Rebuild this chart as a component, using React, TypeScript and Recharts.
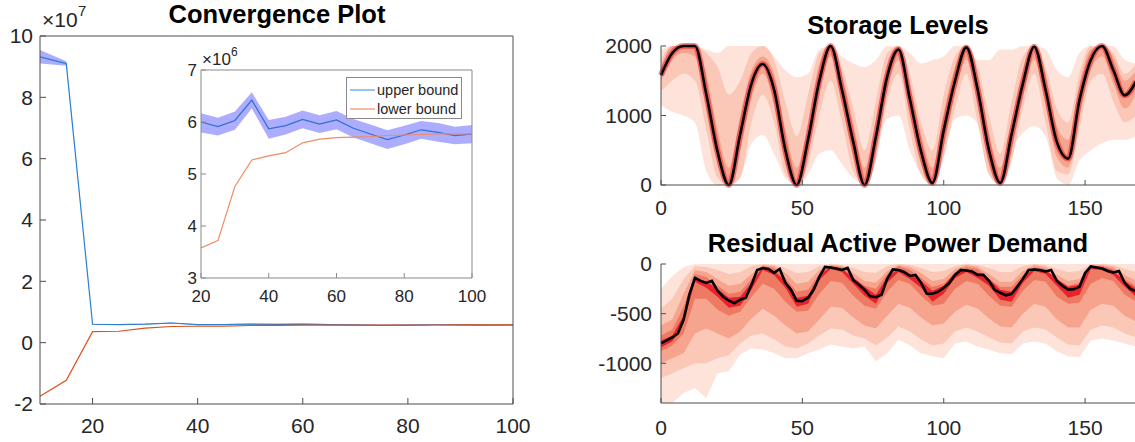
import { ComposedChart, Line, Area, XAxis, YAxis } from 'recharts';

const FONT = '"Liberation Sans", Arial, Helvetica, sans-serif';
const AXIS = '#4d4d4d';
const TXT = '#262626';

// convergence plot (values in 1e6)
const iterations = [10, 15, 20, 25, 30, 35, 40, 45, 50, 55, 60, 65, 70, 75, 80, 85, 90, 95, 100];
const upperBound = [93.2, 91.0, 6.0, 5.91, 6.03, 6.42, 5.87, 5.93, 6.05, 5.96, 6.04, 5.88, 5.77, 5.66, 5.75, 5.85, 5.8, 5.74, 5.77];
const upperLo = [91.0, 90.3, 5.8, 5.74, 5.85, 6.26, 5.68, 5.76, 5.88, 5.79, 5.86, 5.7, 5.59, 5.48, 5.57, 5.68, 5.62, 5.57, 5.59];
const upperHi = [95.4, 91.8, 6.17, 6.08, 6.2, 6.57, 6.04, 6.1, 6.22, 6.13, 6.21, 6.06, 5.95, 5.84, 5.93, 6.02, 5.98, 5.91, 5.94];
const lowerBound = [-17.5, -12.3, 3.58, 3.72, 4.76, 5.27, 5.35, 5.41, 5.6, 5.67, 5.7, 5.71, 5.72, 5.74, 5.75, 5.76, 5.77, 5.77, 5.77];

// storage levels, every 4 hours
const hours = [0, 4, 8, 12, 16, 20, 24, 28, 32, 36, 40, 44, 48, 52, 56, 60, 64, 68, 72, 76, 80, 84, 88, 92, 96, 100, 104, 108, 112, 116, 120, 124, 128, 132, 136, 140, 144, 148, 152, 156, 160, 164, 168];
const storageMedian = [1580, 1900, 2000, 2000, 1310, 480, 0, 730, 1460, 1740, 1370, 500, 0, 650, 1500, 2000, 1370, 620, 0, 695, 1560, 1950, 1240, 480, 30, 790, 1500, 1980, 1370, 500, 30, 730, 1460, 1990, 1370, 620, 380, 1220, 1800, 2000, 1650, 1290, 1490];
const storageOuterLo = [1150, 1050, 1000, 900, 200, 0, 0, 100, 600, 720, 450, 100, 0, 150, 450, 500, 300, 100, 0, 500, 950, 1000, 500, 150, 0, 450, 950, 1000, 880, 300, 0, 500, 750, 850, 700, 100, 0, 350, 500, 600, 650, 650, 700];
const storageOuterHi = [1950, 2000, 2000, 2000, 1950, 1900, 2000, 2000, 2000, 2000, 1850, 1650, 1550, 1600, 1950, 2000, 1850, 1750, 1700, 1800, 2000, 2000, 1900, 1750, 1800, 1850, 2000, 2000, 1800, 1800, 1950, 1950, 2000, 2000, 1950, 1650, 1550, 1900, 2000, 2000, 2000, 1800, 1750];
const storageMidLo = [1350, 1500, 1600, 1500, 800, 100, 0, 100, 900, 1300, 900, 150, 0, 300, 1000, 1500, 900, 200, 0, 350, 1200, 1600, 800, 150, 0, 400, 1100, 1600, 900, 150, 0, 350, 1100, 1600, 900, 200, 150, 800, 1500, 1600, 1200, 900, 1000];
const storageMidHi = [1800, 2000, 2000, 2000, 1900, 1700, 1300, 1500, 1900, 2000, 1800, 1200, 700, 1300, 1900, 2000, 1700, 1100, 500, 1200, 1900, 2000, 1600, 900, 500, 1300, 1850, 2000, 1700, 1000, 450, 1200, 1850, 2000, 1700, 1100, 900, 1600, 2000, 2000, 1900, 1600, 1750];
const storageInnerLo = [1500, 1800, 1900, 1850, 1100, 300, 0, 500, 1250, 1600, 1150, 300, 0, 450, 1300, 1850, 1150, 400, 0, 500, 1350, 1800, 1000, 300, 0, 550, 1300, 1800, 1150, 300, 0, 500, 1250, 1800, 1150, 400, 250, 1000, 1650, 1850, 1450, 1100, 1300];
const storageInnerHi = [1700, 2000, 2000, 2000, 1600, 800, 250, 1000, 1650, 1850, 1600, 800, 250, 900, 1750, 2000, 1600, 900, 250, 950, 1750, 2000, 1450, 750, 250, 1050, 1700, 2000, 1600, 750, 250, 950, 1650, 2000, 1600, 850, 650, 1450, 1950, 2000, 1850, 1500, 1650];

// residual active power demand, bands every 4 hours
const resALo = [-1400, -1400, -1300, -1250, -1350, -1100, -1080, -910, -850, -860, -900, -950, -950, -900, -860, -810, -830, -850, -830, -980, -900, -760, -820, -900, -930, -950, -800, -780, -830, -860, -900, -910, -800, -780, -800, -880, -930, -940, -770, -750, -770, -800, -830];
const resAHi = [-250, -120, -30, 0, 0, 0, 0, 0, 0, 0, 0, 0, 0, 0, 0, 0, 0, 0, 0, 0, 0, 0, 0, 0, 0, 0, 0, 0, 0, 0, 0, 0, 0, 0, 0, 0, 0, 0, 0, 0, 0, 0, 0];
const resBLo = [-1150, -1100, -1050, -1000, -1000, -950, -920, -800, -720, -700, -760, -830, -850, -800, -720, -650, -660, -720, -750, -820, -740, -630, -680, -760, -820, -800, -680, -640, -680, -740, -790, -800, -680, -640, -660, -740, -810, -820, -660, -620, -640, -700, -740];
const resBHi = [-450, -350, -150, -20, -30, -60, -100, -80, -20, 0, -10, -40, -90, -80, -20, 0, -10, -40, -80, -90, -20, 0, -10, -40, -80, -70, -20, 0, -10, -40, -80, -80, -20, 0, -10, -50, -80, -70, 0, 0, -10, -50, -80];
const resCLo = [-1000, -950, -900, -700, -650, -700, -750, -680, -550, -450, -520, -620, -700, -680, -560, -430, -440, -540, -620, -650, -520, -400, -440, -540, -620, -600, -480, -410, -450, -550, -630, -640, -500, -400, -430, -560, -640, -640, -460, -400, -420, -520, -580];
const resCHi = [-620, -560, -300, -60, -80, -150, -220, -200, -100, -10, -20, -90, -200, -180, -60, -10, -20, -90, -170, -190, -70, -10, -30, -90, -170, -150, -50, -10, -30, -100, -180, -180, -70, -10, -30, -110, -170, -150, -20, -10, -30, -110, -170];
const resDLo = [-880, -820, -700, -350, -350, -460, -520, -480, -330, -200, -250, -380, -480, -470, -300, -170, -190, -320, -420, -450, -280, -160, -200, -320, -420, -400, -250, -170, -200, -320, -420, -430, -270, -160, -180, -330, -400, -390, -200, -140, -170, -310, -380];
const resDHi = [-720, -660, -430, -100, -130, -220, -300, -280, -150, -20, -40, -140, -280, -260, -100, -20, -30, -130, -220, -250, -100, -20, -60, -140, -230, -200, -80, -30, -50, -150, -230, -230, -110, -30, -50, -150, -220, -190, -15, -20, -50, -150, -220];
const resELo = [-840, -780, -600, -180, -240, -330, -440, -420, -260, -60, -110, -240, -430, -400, -160, -50, -80, -200, -320, -400, -190, -80, -150, -240, -380, -300, -140, -80, -140, -220, -360, -380, -190, -70, -100, -220, -340, -310, -50, -60, -110, -230, -330];
const resEHi = [-770, -720, -520, -130, -180, -250, -340, -330, -190, -30, -70, -170, -340, -320, -110, -25, -50, -140, -230, -310, -130, -50, -100, -170, -270, -220, -90, -55, -90, -150, -260, -280, -130, -45, -60, -150, -230, -210, -20, -30, -70, -170, -250];

// residual median, every 2 hours
const resHours = [0, 2, 4, 6, 8, 10, 12, 14, 16, 18, 20, 22, 24, 26, 28, 30, 32, 34, 36, 38, 40, 42, 44, 46, 48, 50, 52, 54, 56, 58, 60, 62, 64, 66, 68, 70, 72, 74, 76, 78, 80, 82, 84, 86, 88, 90, 92, 94, 96, 98, 100, 102, 104, 106, 108, 110, 112, 114, 116, 118, 120, 122, 124, 126, 128, 130, 132, 134, 136, 138, 140, 142, 144, 146, 148, 150, 152, 154, 156, 158, 160, 162, 164, 166, 168];
const resMedian = [-800, -770, -740, -700, -560, -310, -140, -170, -190, -170, -270, -330, -370, -395, -360, -340, -210, -60, -40, -50, -90, -50, -190, -260, -370, -375, -340, -260, -130, -30, -35, -45, -60, -40, -160, -210, -260, -325, -335, -310, -150, -55, -60, -80, -120, -110, -190, -300, -300, -280, -240, -190, -110, -60, -65, -75, -110, -110, -170, -260, -290, -315, -300, -230, -150, -60, -55, -60, -75, -60, -170, -220, -258, -255, -230, -90, -25, -35, -45, -70, -85, -70, -190, -250, -275];

const convData = iterations.map((it, i) => ({ it, ub: upperBound[i], lb: lowerBound[i], band: [upperLo[i], upperHi[i]] }));
const insetData = convData.filter((d) => d.it >= 20);

const storageData = hours.map((t, i) => ({
  t,
  med: storageMedian[i],
  outer: [storageOuterLo[i], storageOuterHi[i]],
  mid: [storageMidLo[i], storageMidHi[i]],
  inner: [storageInnerLo[i], storageInnerHi[i]],
}));

const resData = hours.map((t, i) => ({
  t,
  a: [resALo[i], resAHi[i]],
  b: [resBLo[i], resBHi[i]],
  c: [resCLo[i], resCHi[i]],
  d: [resDLo[i], resDHi[i]],
  e: [resELo[i], resEHi[i]],
}));
const resLine = resHours.map((t, i) => ({ t, med: resMedian[i] }));

const REDS = ['#fde3da', '#fbc8b8', '#f6a48e', '#ef7a64', '#e8232c'];

const tickStyle = { fill: TXT, fontSize: 21, fontFamily: FONT };

function StorageChart() {
  return (
    <ComposedChart width={560} height={230} data={storageData} margin={{ top: 46, right: 9, bottom: 0, left: 0 }}>
      <XAxis dataKey="t" type="number" domain={[0, 168]} ticks={[0, 50, 100, 150]} height={45} stroke={AXIS} tickSize={-5} tickMargin={20} tick={tickStyle} />
      <YAxis type="number" domain={[0, 2000]} ticks={[0, 1000, 2000]} width={76} stroke={AXIS} tickSize={-5} tickMargin={14} tick={tickStyle} />
      <Area dataKey="outer" type="monotone" stroke="none" fill={REDS[0]} fillOpacity={1} isAnimationActive={false} />
      <Area dataKey="mid" type="monotone" stroke="none" fill={REDS[1]} fillOpacity={1} isAnimationActive={false} />
      <Area dataKey="inner" type="monotone" stroke="none" fill={REDS[2]} fillOpacity={1} isAnimationActive={false} />
      <Line dataKey="med" type="monotone" stroke="#e8232c" strokeWidth={6} strokeOpacity={0.55} dot={false} isAnimationActive={false} />
      <Line dataKey="med" type="monotone" stroke="#000" strokeWidth={2.6} dot={false} isAnimationActive={false} />
    </ComposedChart>
  );
}

function ResidualChart() {
  return (
    <ComposedChart width={560} height={222} data={resData} margin={{ top: 44, right: 9, bottom: 0, left: 0 }}>
      <XAxis dataKey="t" type="number" domain={[0, 168]} ticks={[0, 50, 100, 150]} height={39} stroke={AXIS} tickSize={-5} tickMargin={22} tick={tickStyle} />
      <YAxis type="number" domain={[-1400, 0]} ticks={[-1000, -500, 0]} width={76} stroke={AXIS} tickSize={-5} tickMargin={14} tick={tickStyle} allowDataOverflow />
      <Area dataKey="a" type="linear" stroke="none" fill={REDS[0]} fillOpacity={1} isAnimationActive={false} />
      <Area dataKey="b" type="linear" stroke="none" fill={REDS[1]} fillOpacity={1} isAnimationActive={false} />
      <Area dataKey="c" type="linear" stroke="none" fill={REDS[2]} fillOpacity={1} isAnimationActive={false} />
      <Area dataKey="d" type="linear" stroke="none" fill={REDS[3]} fillOpacity={1} isAnimationActive={false} />
      <Area dataKey="e" type="linear" stroke="none" fill={REDS[4]} fillOpacity={1} isAnimationActive={false} />
      <Line data={resLine} dataKey="med" type="linear" stroke="#000" strokeWidth={2.6} dot={false} isAnimationActive={false} />
    </ComposedChart>
  );
}

function MainChart() {
  return (
    <ComposedChart width={545} height={442} data={convData} margin={{ top: 35, right: 31, bottom: 0, left: 0 }}>
      <XAxis dataKey="it" type="number" domain={[10, 100]} ticks={[20, 40, 60, 80, 100]} height={38} stroke={AXIS} tickSize={-6} tickMargin={20} tick={tickStyle} />
      <XAxis xAxisId="top" orientation="top" dataKey="it" type="number" domain={[10, 100]} ticks={[20, 40, 60, 80, 100]} height={1} stroke={AXIS} tickSize={-6} tick={false} />
      <YAxis type="number" domain={[-20, 100]} ticks={[-20, 0, 20, 40, 60, 80, 100]} width={40} stroke={AXIS} tickSize={-6} tickMargin={13} tick={tickStyle} tickFormatter={(v: number) => String(v / 10)} />
      <YAxis yAxisId="right" orientation="right" type="number" domain={[-20, 100]} ticks={[-20, 0, 20, 40, 60, 80, 100]} width={1} stroke={AXIS} tickSize={-6} tick={false} />
      <Area dataKey="band" type="linear" stroke="none" fill="#0000ff" fillOpacity={0.32} isAnimationActive={false} />
      <Line dataKey="ub" type="linear" stroke="#2f7fd0" strokeWidth={1.2} dot={false} isAnimationActive={false} />
      <Line dataKey="lb" type="linear" stroke="#d95319" strokeWidth={1.2} dot={false} isAnimationActive={false} />
      <Line xAxisId="top" yAxisId="right" dataKey="ub" stroke="transparent" dot={false} legendType="none" isAnimationActive={false} />
    </ComposedChart>
  );
}

function InsetChart() {
  const small = { fill: TXT, fontSize: 17, fontFamily: FONT };
  return (
    <ComposedChart width={340} height={280} data={insetData} margin={{ top: 29, right: 27, bottom: 2, left: 0 }}>
      <XAxis dataKey="it" type="number" domain={[20, 100]} ticks={[20, 40, 60, 80, 100]} height={40} stroke="#8a8a8a" tickSize={-5} tickMargin={17} tick={small} />
      <XAxis xAxisId="top" orientation="top" dataKey="it" type="number" domain={[20, 100]} ticks={[20, 40, 60, 80, 100]} height={1} stroke="#8a8a8a" tickSize={-5} tick={false} />
      <YAxis type="number" domain={[3, 7]} ticks={[3, 4, 5, 6, 7]} width={41} stroke="#8a8a8a" tickSize={-5} tickMargin={9} tick={small} allowDataOverflow />
      <YAxis yAxisId="right" orientation="right" type="number" domain={[3, 7]} ticks={[3, 4, 5, 6, 7]} width={1} stroke="#8a8a8a" tickSize={-5} tick={false} allowDataOverflow />
      <Area dataKey="band" type="linear" stroke="none" fill="#0000ff" fillOpacity={0.32} isAnimationActive={false} />
      <Line dataKey="ub" type="linear" stroke="#2f6fd0" strokeWidth={1.2} dot={false} isAnimationActive={false} />
      <Line dataKey="lb" type="linear" stroke="#ee8c68" strokeWidth={1.2} dot={false} isAnimationActive={false} />
      <Line xAxisId="top" yAxisId="right" dataKey="ub" stroke="transparent" dot={false} legendType="none" isAnimationActive={false} />
    </ComposedChart>
  );
}

export default function App() {
  return (
    <div style={{ position: 'absolute', left: 0, top: 0, width: 1135, height: 442, overflow: 'hidden', background: '#fff', fontFamily: FONT }}>
      <div style={{ position: 'absolute', left: 0, top: 0 }}>
        <MainChart />
      </div>
      <div style={{ position: 'absolute', left: 160, top: 40 }}>
        <InsetChart />
      </div>
      <div style={{ position: 'absolute', left: 346, top: 77, width: 114, height: 40, border: '1px solid #8a8a8a', background: '#fff' }}>
        <svg width={114} height={40} style={{ position: 'absolute', left: 0, top: 0 }}>
          <line x1={3} x2={28} y1={12} y2={12} stroke="#4da0e6" strokeWidth={1.2} />
          <line x1={3} x2={28} y1={31} y2={31} stroke="#ee8c68" strokeWidth={1.2} />
          <text x={30} y={17} fontSize={14.5} fill={TXT} fontFamily={FONT}>upper bound</text>
          <text x={30} y={36} fontSize={14.5} fill={TXT} fontFamily={FONT}>lower bound</text>
        </svg>
      </div>
      <div style={{ position: 'absolute', left: 585, top: 0 }}>
        <StorageChart />
      </div>
      <div style={{ position: 'absolute', left: 585, top: 220 }}>
        <ResidualChart />
      </div>
      <svg width={1135} height={442} style={{ position: 'absolute', left: 0, top: 0, pointerEvents: 'none' }}>
        <g fontFamily={FONT} fill="#000" fontWeight="bold" fontSize={25.5} textAnchor="middle">
          <text x={277} y={23}>Convergence Plot</text>
          <text x={898} y={34}>Storage Levels</text>
          <text x={898} y={252}>Residual Active Power Demand</text>
        </g>
        <g fontFamily={FONT} fill={TXT}>
          <text x={42} y={27} fontSize={21}>×10</text>
          <text x={78} y={16} fontSize={15}>7</text>
          <text x={202} y={65} fontSize={17}>×10</text>
          <text x={231} y={56} fontSize={12}>6</text>
        </g>
      </svg>
    </div>
  );
}
